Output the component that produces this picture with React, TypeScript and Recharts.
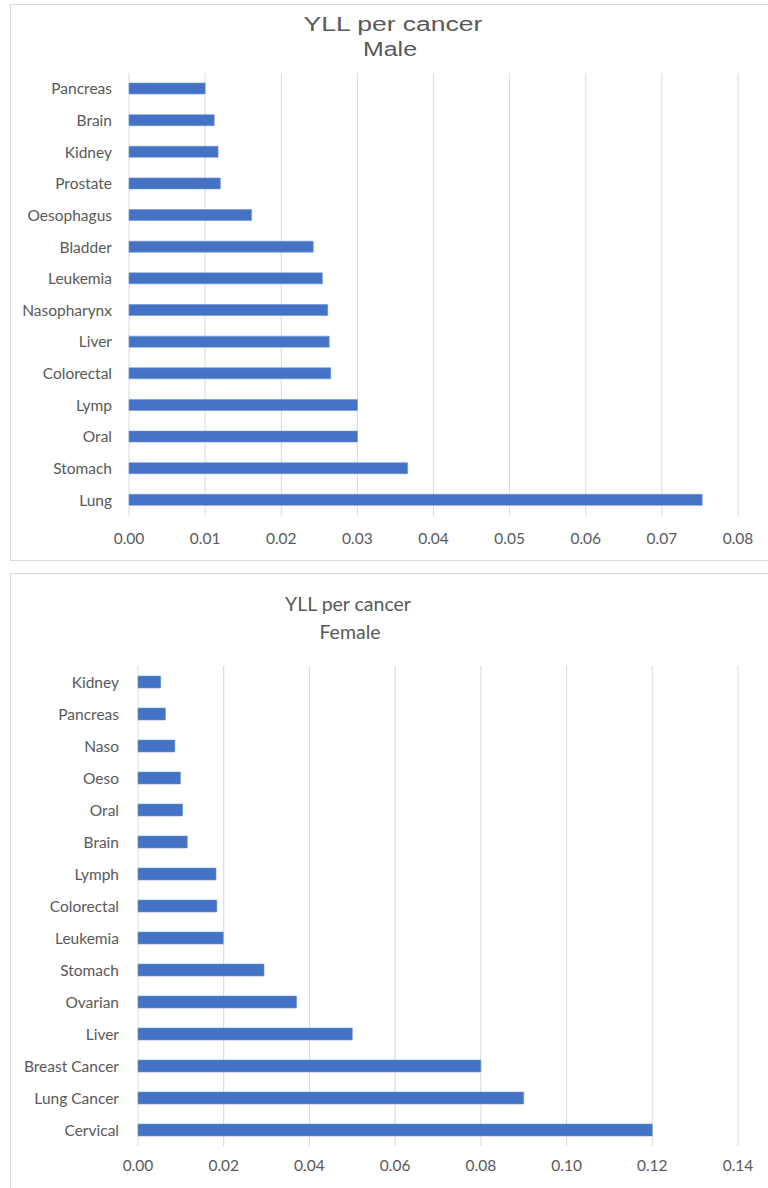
import { Bar, BarChart, CartesianGrid, XAxis, YAxis } from "recharts";

// male chart — categories top to bottom
const MALE_CATS = [
  "Pancreas", "Brain", "Kidney", "Prostate", "Oesophagus", "Bladder", "Leukemia",
  "Nasopharynx", "Liver", "Colorectal", "Lymp", "Oral", "Stomach", "Lung",
];
const MALE_YLL = [
  0.0100, 0.0112, 0.0117, 0.0120, 0.0161, 0.0242, 0.0254,
  0.0261, 0.0263, 0.0265, 0.0300, 0.0300, 0.0366, 0.0753,
];
const MALE_TICKS = [0, 0.01, 0.02, 0.03, 0.04, 0.05, 0.06, 0.07, 0.08];

// female chart
const FEMALE_CATS = [
  "Kidney", "Pancreas", "Naso", "Oeso", "Oral", "Brain", "Lymph", "Colorectal",
  "Leukemia", "Stomach", "Ovarian", "Liver", "Breast Cancer", "Lung Cancer", "Cervical",
];
const FEMALE_YLL = [
  0.0053, 0.0064, 0.0086, 0.0099, 0.0104, 0.0115, 0.0182, 0.0184,
  0.0199, 0.0294, 0.0370, 0.0500, 0.0800, 0.0900, 0.1200,
];
const FEMALE_TICKS = [0, 0.02, 0.04, 0.06, 0.08, 0.10, 0.12, 0.14];

const BLUE = "#4472C4";
const GRID = "#d9d9d9";
const TEXT = "#595959";
const LABEL_FONT = "Lato, 'Open Sans', sans-serif";

type Row = { name: string; valor: number };

function HBar({ rows, ticks, top, height, axisWidth, plotTop, barSize, labelGap, tickGap }: {
  rows: Row[]; ticks: number[]; top: number; height: number; axisWidth: number;
  plotTop: number; barSize: number; labelGap: number; tickGap: number;
}) {
  const tick = { fill: TEXT, fontSize: 15.5, fontFamily: LABEL_FONT };
  return (
    <div style={{ position: "absolute", left: 0, top }}>
      <BarChart width={768} height={height} data={rows} layout="vertical"
        margin={{ top: plotTop, right: 30, left: 0, bottom: 14 }}>
        <CartesianGrid horizontal={false} stroke={GRID} strokeWidth={1} />
        <XAxis type="number" domain={[ticks[0], ticks[ticks.length - 1]]} ticks={ticks}
          interval={0} height={30} tickSize={0} tickMargin={tickGap} axisLine={false} tickLine={false}
          tick={tick} tickFormatter={(v) => Number(v).toFixed(2)} />
        <YAxis type="category" dataKey="name" width={axisWidth} interval={0}
          tickSize={0} tickMargin={labelGap} axisLine={false} tickLine={false} tick={tick} />
        <Bar dataKey="valor" fill={BLUE} stroke="#6f93d3" strokeWidth={0.6}
          barSize={barSize} isAnimationActive={false} />
      </BarChart>
    </div>
  );
}

const boxStyle = (top: number, height: number): React.CSSProperties => ({
  position: "absolute", left: 10, top, width: 800, height,
  border: `1px solid ${GRID}`, boxSizing: "border-box", background: "#fff",
});

const titleStyle = (cx: number, top: number, font: string, size: number, sx: number): React.CSSProperties => ({
  position: "absolute", left: cx, top, fontFamily: font, fontSize: size, lineHeight: 1,
  color: TEXT, whiteSpace: "nowrap", transform: `translateX(-50%) scaleX(${sx})`,
});

export default function App() {
  const male = MALE_CATS.map((name, i) => ({ name, valor: MALE_YLL[i] }));
  const female = FEMALE_CATS.map((name, i) => ({ name, valor: FEMALE_YLL[i] }));
  const arial = "'Liberation Sans', Arial, sans-serif";

  return (
    <div style={{ position: "absolute", left: 0, top: 0, width: 768, height: 1188, overflow: "hidden", background: "#fff" }}>
      <div style={boxStyle(4, 557)} />
      <div style={boxStyle(573, 700)} />

      <div style={titleStyle(393, 15, arial, 19.5, 1.36)}>YLL per cancer</div>
      <div style={titleStyle(390, 40, arial, 19.5, 1.28)}>Male</div>
      <HBar rows={male} ticks={MALE_TICKS} top={0} height={560} axisWidth={129}
        plotTop={73} barSize={11} labelGap={17} tickGap={17} />

      <div style={titleStyle(348, 594, LABEL_FONT, 19.5, 1)}>YLL per cancer</div>
      <div style={titleStyle(350, 622, LABEL_FONT, 19.5, 1)}>Female</div>
      <HBar rows={female} ticks={FEMALE_TICKS} top={573} height={617} axisWidth={138}
        plotTop={93} barSize={12} labelGap={19} tickGap={14} />
    </div>
  );
}
